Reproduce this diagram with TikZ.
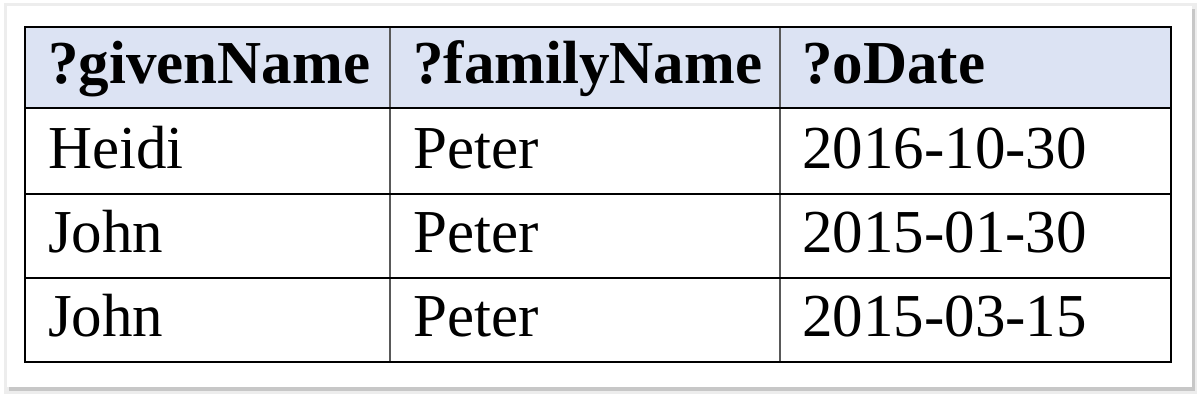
\documentclass[tikz,border=0pt]{standalone}
\usepackage{fontspec}
\setmainfont{Liberation Serif}
\definecolor{headblue}{RGB}{220,227,243}
\begin{document}
\begin{tikzpicture}[x=1pt,y=-1pt,
  cell/.style={anchor=base west, inner sep=0pt, font=\fontsize{61}{70}\selectfont},
  head/.style={cell, font=\fontsize{61}{70}\selectfont\bfseries}]
\useasboundingbox (0,0) rectangle (1200,402);
% panel with shadow
\fill[black!7] (4,3) rectangle (1197,394);
\fill[black!22] (9,9) rectangle (1195,391);
\fill[white] (7,6) rectangle (1192,387);
% header row
\fill[headblue] (25,27) rectangle (1171,108);
\foreach \x in {390,780}{
\draw[black!65, line width=1.2pt] (\x,27) -- (\x,362);
}
\foreach \y in {108,194,278}{
\draw[line width=2pt] (25,\y) -- (1171,\y);
}
\draw[line width=2pt] (25,27) rectangle (1171,362);
\node[head] (hgiven) at (48,83.5) {?givenName};
\node[head] (hfamily) at (413,83.5) {?familyName};
\node[head] (hdate) at (802,83.5) {?oDate};
\node[cell] (given1) at (48,168) {Heidi};
\node[cell] (family1) at (413,168) {Peter};
\node[cell] (date1) at (802,168) {2016-10-30};
\node[cell] (given2) at (48,252) {John};
\node[cell] (family2) at (413,252) {Peter};
\node[cell] (date2) at (802,252) {2015-01-30};
\node[cell] (given3) at (48,336) {John};
\node[cell] (family3) at (413,336) {Peter};
\node[cell] (date3) at (802,336) {2015-03-15};
\end{tikzpicture}
\end{document}
